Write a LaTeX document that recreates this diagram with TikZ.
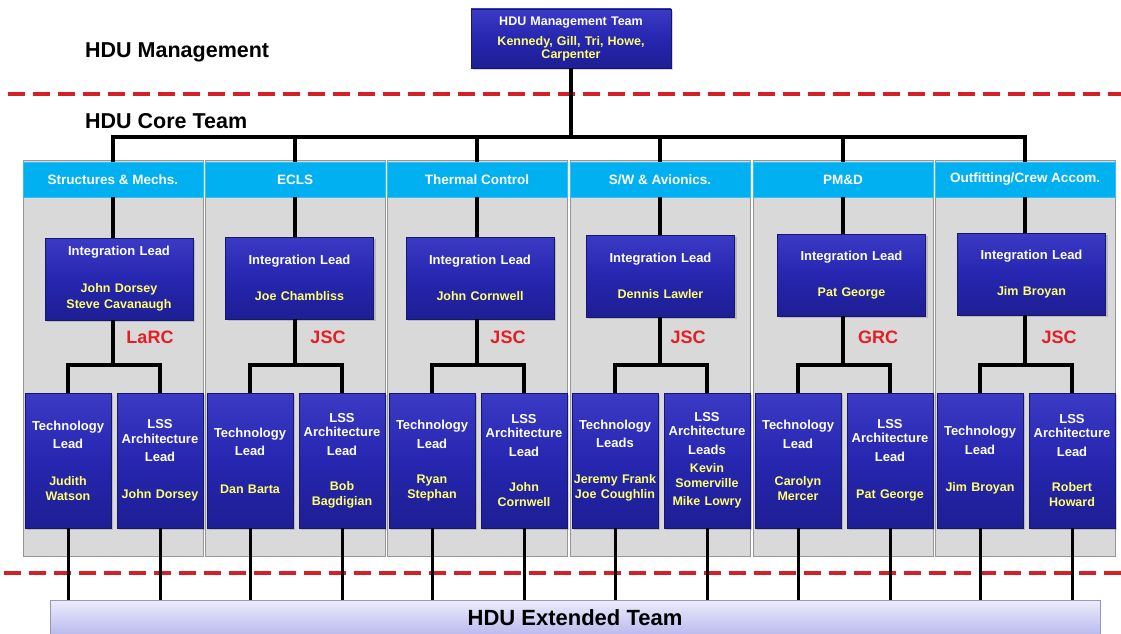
\documentclass[tikz,border=0pt]{standalone}
\usepackage{fontspec}
\setmainfont{Liberation Sans}
\usetikzlibrary{shadows}

\definecolor{boxtop}{RGB}{58,58,196}
\definecolor{boxmid}{RGB}{38,38,176}
\definecolor{boxbot}{RGB}{30,30,148}
\definecolor{boxedge}{RGB}{22,22,110}
\definecolor{nameyellow}{RGB}{255,255,110}
\definecolor{hdrcyan}{RGB}{0,176,240}
\definecolor{panelgrey}{RGB}{217,217,217}
\definecolor{paneledge}{RGB}{150,150,150}
\definecolor{sitered}{RGB}{228,30,38}
\definecolor{dashred}{RGB}{214,32,40}
\definecolor{exttop}{RGB}{236,236,252}
\definecolor{extbot}{RGB}{184,184,238}
\definecolor{extedge}{RGB}{150,150,190}

% names in the blue boxes
\newcommand{\who}{\color{nameyellow}\fontsize{12.5}{14.5}\selectfont}

\tikzset{
  bluebox/.style={draw=boxedge, line width=0.6pt, top color=boxtop, bottom color=boxbot, middle color=boxmid,
    drop shadow={shadow xshift=2pt, shadow yshift=-2pt, opacity=0.35},
    text=white, align=center, inner sep=0pt, font=\fontsize{13}{14.5}\selectfont\bfseries},
  intbox/.style={bluebox, minimum width=148pt, minimum height=82pt, text width=144pt},
  leafbox/.style={bluebox, minimum width=86pt, minimum height=135pt, text width=84pt},
  panel/.style={fill=panelgrey, draw=paneledge, line width=0.6pt, minimum width=180pt, minimum height=396pt, inner sep=0pt},
  hdr/.style={fill=hdrcyan, draw=hdrcyan!80!white, line width=0.6pt, minimum width=180pt, minimum height=35pt,
    inner sep=0pt, text=white, font=\fontsize{13.5}{15}\selectfont\bfseries},
  link/.style={line width=4pt, black, line join=miter},
  droplink/.style={line width=3pt, black},
  divider/.style={dashred, line width=4pt, dash pattern=on 17pt off 8pt},
  lvl/.style={anchor=west, inner sep=0pt, font=\fontsize{21.5}{24}\selectfont\bfseries},
  site/.style={text=sitered, inner sep=0pt, font=\fontsize{18}{20}\selectfont\bfseries},
  extbox/.style={draw=extedge, line width=0.6pt, top color=exttop, bottom color=extbot, minimum width=1050pt,
    minimum height=36pt, inner sep=0pt, font=\fontsize{22}{24}\selectfont\bfseries}
}

\begin{document}
\begin{tikzpicture}[x=1pt, y=-1pt]
\clip (0,0) rectangle (1121,634);

% level labels and dividers
\node[lvl] (lvlMgmt) at (85,52) {HDU Management};
\node[lvl] (lvlCore) at (85,121) {HDU Core Team};
\draw[divider] (8,94) -- (1121,94);
\draw[divider] (4,573) -- (1121,573);

% top
\node[bluebox, minimum width=200pt, minimum height=59pt, text width=196pt, font=\fontsize{12.5}{13}\selectfont\bfseries]
  (mgmt) at (571,38.5) {HDU Management Team\\[7pt]\color{nameyellow}Kennedy, Gill, Tri, Howe,\\Carpenter};

% columns
\foreach \c/\L/\hd in {A/23/{Structures \& Mechs.}, B/205/ECLS, C/387/{Thermal Control},
                      D/570/{S/W \& Avionics.}, E/753/{PM\&D}, F/935/{Outfitting/Crew Accom.}} {
  \node[panel] (panel\c) at (\L+90,358) {};
  \node[hdr] (hdr\c) at (\L+90,179.5) {\hd};
  \coordinate (br\c) at (\L+90,365);
}

% integration leads
\node[intbox] (intA) at (119,279) {Integration Lead\\[22pt]\who John Dorsey\\[2pt]Steve Cavanaugh};
\node[intbox] (intB) at (299.5,278) {Integration Lead\\[22pt]\who Joe Chambliss};
\node[intbox] (intC) at (480,278) {Integration Lead\\[22pt]\who John Cornwell};
\node[intbox] (intD) at (660.5,276) {Integration Lead\\[22pt]\who Dennis Lawler};
\node[intbox] (intE) at (851.5,275) {Integration Lead\\[22pt]\who Pat George};
\node[intbox] (intF) at (1031.5,274) {Integration Lead\\[22pt]\who Jim Broyan};

\node[site] (siteA) at (150,337) {LaRC};
\node[site] (siteB) at (328,337) {JSC};
\node[site] (siteC) at (508,337) {JSC};
\node[site] (siteD) at (688,337) {JSC};
\node[site] (siteE) at (878,337) {GRC};
\node[site] (siteF) at (1059,337) {JSC};

% technology and architecture leads
\node[leafbox] (tecA) at (68,460.5) {Technology\\[3.5pt]Lead\\[23pt]\who Judith\\Watson};
\node[leafbox] (lssA) at (160,460.5) {LSS\\Architecture\\[3.5pt]Lead\\[23pt]\who John Dorsey};
\node[leafbox] (tecB) at (250,460.5) {Technology\\[4pt]Lead\\[23pt]\who Dan Barta};
\node[leafbox] (lssB) at (342,460.5) {LSS\\Architecture\\[4pt]Lead\\[21pt]\who Bob\\Bagdigian};
\node[leafbox] (tecC) at (432,460.5) {Technology\\[4pt]Lead\\[21pt]\who Ryan\\Stephan};
\node[leafbox] (lssC) at (524,460.5) {LSS\\Architecture\\[4pt]Lead\\[21pt]\who John\\Cornwell};
\node[leafbox] (tecD) at (615,460.5) {Technology\\[3.5pt]Leads\\[22pt]\who Jeremy Frank\\Joe Coughlin};
\node[leafbox] (lssD) at (707,460.5) {LSS\\Architecture\\[4pt]Leads\\[4pt]\who Kevin\\Somerville\\[4pt]Mike Lowry};
\node[leafbox] (tecE) at (798,460.5) {Technology\\[4pt]Lead\\[23pt]\who Carolyn\\Mercer};
\node[leafbox] (lssE) at (890,460.5) {LSS\\Architecture\\[4pt]Lead\\[23pt]\who Pat George};
\node[leafbox] (tecF) at (980,460.5) {Technology\\[4pt]Lead\\[23pt]\who Jim Broyan};
\node[leafbox] (lssF) at (1072,460.5) {LSS\\Architecture\\[4pt]Lead\\[21pt]\who Robert\\Howard};

\node[extbox] (ext) at (575,618) {HDU Extended Team};

% connectors
\coordinate (bus) at (571,137);
\draw[link] (mgmt.south) -- (bus);
\draw[link] (hdrA.north) -- (hdrA.north |- bus) -- (hdrF.north |- bus) -- (hdrF.north);
\foreach \c in {B,C,D,E}
  \draw[link] (hdr\c.north) -- (hdr\c.north |- bus);
\foreach \c in {A,B,C,D,E,F} {
  \draw[link] (hdr\c.south) -- (hdr\c.south |- int\c.north);
  \draw[link] (br\c |- int\c.south) -- (br\c);
  \draw[link] (tec\c.north) |- (br\c) -| (lss\c.north);
  \draw[droplink] (tec\c.south) -- (tec\c.south |- ext.north);
  \draw[droplink] (lss\c.south) -- (lss\c.south |- ext.north);
}
\end{tikzpicture}
\end{document}
